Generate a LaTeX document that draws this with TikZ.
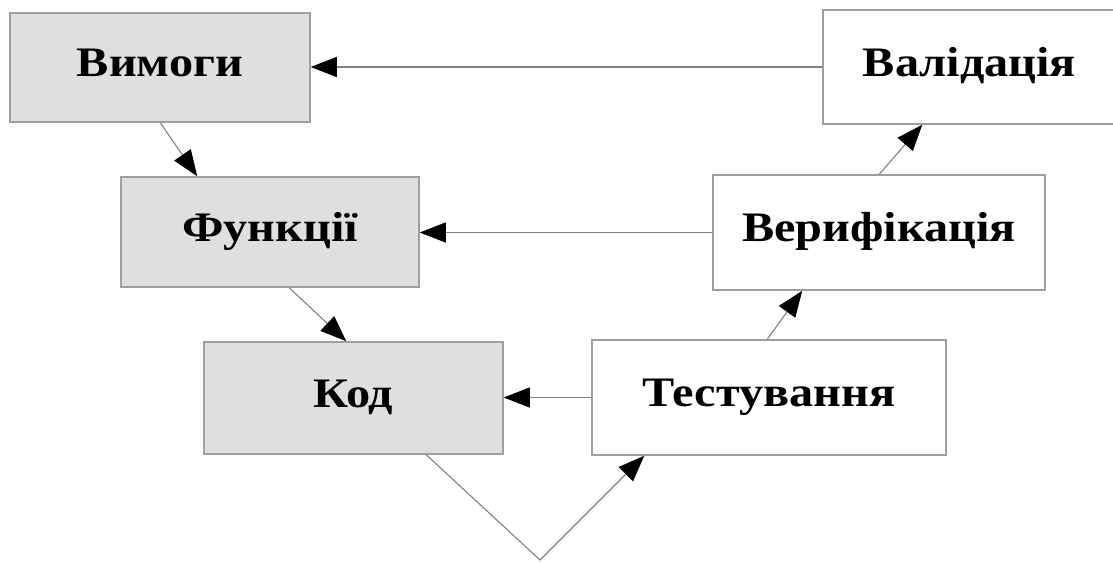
\documentclass[tikz,border=0pt]{standalone}
\usepackage{fontspec}
\setmainfont{Liberation Serif}
\newfontfamily\boxfont[FakeStretch=1.15]{Liberation Serif}
\usetikzlibrary{arrows.meta,positioning,calc}

\begin{document}
\begin{tikzpicture}[
  x=1pt, y=-1pt,
  box/.style={draw=gray!75, line width=1.5pt, inner sep=0pt, text height=30pt, text depth=12pt, font=\boxfont\fontsize{42}{48}\selectfont\bfseries},
  stage/.style={box, fill=gray!25},
  check/.style={box, fill=white},
  arr/.style={-{Triangle[length=26pt, width=20pt, color=black]}, draw=gray, line width=1.1pt},
]
\useasboundingbox (0,0) rectangle (1113,562);

% Left branch
\node[stage, minimum width=300pt, minimum height=109pt] (vym) at (160, 67.5) {Вимоги};
\node[stage, minimum width=298pt, minimum height=110pt] (fun) at (270, 232) {Функції};
\node[stage, minimum width=299pt, minimum height=112pt] (kod) at (353.5, 398) {Код};

% Right branch
\node[check, minimum width=293pt, minimum height=114pt] (val) at (969.5, 67) {Валідація};
\node[check, minimum width=332pt, minimum height=115pt] (ver) at (879, 232.5) {Верифікація};
\node[check, minimum width=354pt, minimum height=115pt] (tst) at (769, 397.5) {Тестування};

% Bottom of the V
\coordinate (vtip) at (540, 560);

% Horizontal links
\draw[arr] (val.west) -- (val.west -| vym.east);
\draw[arr] (ver.west) -- (ver.west -| fun.east);
\draw[arr] (tst.west) -- (tst.west -| kod.east);

% Going down
\draw[arr] ([xshift=151pt]vym.south west) -- ([xshift=77pt]fun.north west);
\draw[arr] ([xshift=169pt]fun.south west) -- ([xshift=143pt]kod.north west);
\draw[arr] ([xshift=223pt]kod.south west) -- (vtip) -- ([xshift=53pt]tst.south west);

% Going up
\draw[arr] ([xshift=176pt]tst.north west) -- ([xshift=90pt]ver.south west);
\draw[arr] ([xshift=167pt]ver.north west) -- ([xshift=100pt]val.south west);

\end{tikzpicture}
\end{document}
